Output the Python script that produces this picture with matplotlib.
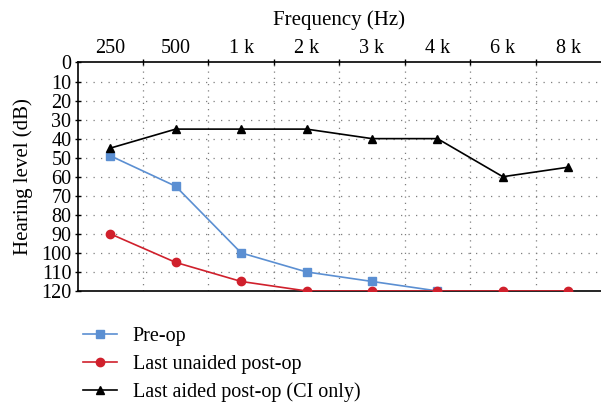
import matplotlib
matplotlib.use("Agg")
import matplotlib.pyplot as plt
import numpy as np

# Audiogram data (dB HL)
freq_labels = ["250", "500", "1 k", "2 k", "3 k", "4 k", "6 k", "8 k"]
pre_op = [49, 65, 100, 110, 115, 120]
unaided_post = [90, 105, 115, 120, 120, 120, 120, 120]
aided_post = [45, 35, 35, 35, 40, 40, 60, 55]
y_ticks = list(range(0, 121, 10))

plt.rcParams["font.family"] = ["Liberation Serif", "DejaVu Serif"]

fig = plt.figure(figsize=(6.01, 4.03), dpi=100)
ax = fig.add_axes([0.129, 0.278, 0.871, 0.567])

x = np.arange(len(freq_labels))
ax.set_xlim(-0.5, len(freq_labels) - 0.5)
ax.set_ylim(120, 0)

# dotted grid: horizontal at every 10 dB, vertical at category boundaries
bounds = np.arange(0.5, len(freq_labels) - 0.5, 1.0)
for yv in y_ticks[1:-1]:
    ax.axhline(yv, color="#7f7f7f", lw=0.9, ls=(0, (1, 5)), zorder=1)
for xv in bounds:
    ax.axvline(xv, color="#7f7f7f", lw=0.9, ls=(0, (1, 4)), zorder=1)

ax.plot(x[:len(pre_op)], pre_op, color="#5b8fd2", lw=1.2, marker="s",
        ms=6, label="Pre-op", zorder=3)
ax.plot(x, unaided_post, color="#d0202c", lw=1.2, marker="o",
        ms=6, label="Last unaided post-op", zorder=4)
ax.plot(x, aided_post, color="black", lw=1.2, marker="^",
        ms=6, label="Last aided post-op (CI only)", zorder=5)

# category axis on top
ax.xaxis.tick_top()
ax.xaxis.set_label_position("top")
ax.set_xticks(bounds)
ax.set_xticklabels([])
ax.tick_params(axis="x", which="major", direction="inout", length=5, width=1)
ax.set_xticks(x, minor=True)
ax.set_xticklabels(freq_labels, minor=True, fontsize=14.5)
ax.tick_params(axis="x", which="minor", length=0, pad=3)
ax.set_xlabel("Frequency (Hz)", fontsize=15, labelpad=10)

ax.set_yticks(y_ticks)
ax.set_yticklabels([str(v) for v in y_ticks], fontsize=14.5)
ax.tick_params(axis="y", direction="inout", length=5, width=1, pad=2)
ax.set_ylabel("Hearing level (dB)", fontsize=15, labelpad=6)

for side in ["left", "top", "bottom"]:
    ax.spines[side].set_linewidth(1.2)
    ax.spines[side].set_color("black")
ax.spines["right"].set_visible(False)

fig.legend(loc="upper left", bbox_to_anchor=(0.125, 0.208), frameon=False,
           fontsize=14.5, handlelength=1.7, handletextpad=0.75,
           labelspacing=0.42, borderaxespad=0)

fig.savefig("out.png", dpi=100)
